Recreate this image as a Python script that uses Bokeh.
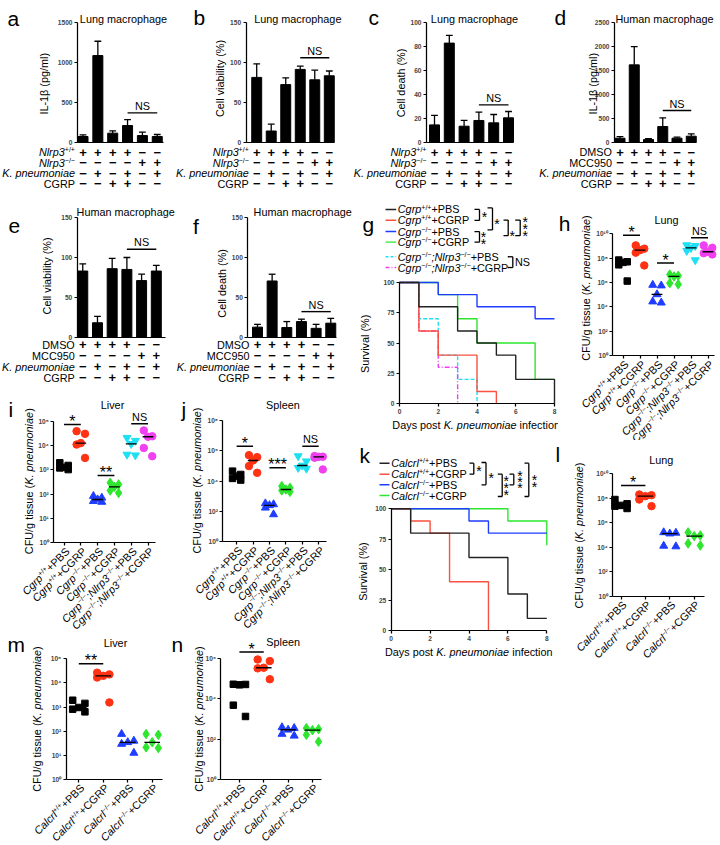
import math
import numpy as np
from bokeh.plotting import figure
from bokeh.models import Range1d, Label, FixedTicker
from bokeh.layouts import row, column
from bokeh.embed import file_html
from bokeh.resources import INLINE
from bokeh.core.properties import value

# ======================= DATA =======================
# bar charts: mean and SEM for 6 groups
a_il1b_mean = [71, 1083, 113, 208, 83, 71]
a_il1b_sem = [20, 179, 29, 75, 42, 25]
b_viab_mean = [81, 14, 72, 91, 78, 83]
b_viab_sem = [17, 8.5, 8.5, 4, 12, 6]
c_death_mean = [14.5, 83, 13.4, 18.2, 16.2, 20.4]
c_death_sem = [8, 6.4, 4.8, 7, 7, 5.3]
d_il1b_mean = [83, 1611, 55, 326, 83, 125]
d_il1b_sem = [35, 382, 21, 181, 21, 49]
e_viab_mean = [83, 18, 86, 85, 71, 83]
e_viab_sem = [9, 8, 13, 15, 8, 7]
f_death_mean = [12.5, 70.5, 12, 19.5, 11, 17.5]
f_death_sem = [3.5, 8.5, 7.5, 3, 5, 6]
# level of the "NS" comparison line (groups 4-6)
a_ns, b_ns, c_ns, d_ns, e_ns, f_ns = 367, 105.5, 31.3, 660, 110.4, 32

a_ticks = [0, 500, 1000, 1500]
b_ticks = [0, 50, 100, 150]
c_ticks = [0, 20, 40, 60, 80, 100]
d_ticks = [0, 500, 1000, 1500, 2000, 2500]
e_ticks = [0, 50, 100, 150]
f_ticks = [0, 50, 100, 150]

# treatment matrix (1 = "+", 0 = "-")
tbl_nlrp3_wt = [1, 1, 1, 1, 0, 0]
tbl_nlrp3_ko = [0, 0, 0, 0, 1, 1]
tbl_dmso = [1, 1, 1, 1, 0, 0]
tbl_mcc950 = [0, 0, 0, 0, 1, 1]
tbl_kp = [0, 1, 0, 1, 0, 1]
tbl_cgrp = [0, 0, 1, 1, 0, 0]

# survival (days, % survival) - panel g
g_black_t, g_black_s = [0, 1, 3, 4, 5, 6, 8], [100, 80, 60, 50, 40, 20, 0]
g_red_t, g_red_s = [0, 1, 2, 4, 5], [100, 60, 40, 10, 0]
g_blue_t, g_blue_s = [0, 2, 4, 7, 8], [100, 90, 80, 70, 70]
g_green_t, g_green_s = [0, 2, 3, 4, 7, 8], [100, 90, 70, 50, 20, 20]
g_cyan_t, g_cyan_s = [0, 1, 2, 3, 4], [100, 70, 40, 20, 0]
g_mag_t, g_mag_s = [0, 1, 2, 3], [100, 60, 30, 0]
# survival - panel k
k_black_t, k_black_s = [0, 1, 4, 6, 7, 8], [100, 80, 60, 30, 10, 10]
k_red_t, k_red_s = [0, 1, 2, 3, 5], [100, 90, 80, 40, 0]
k_blue_t, k_blue_s = [0, 4, 5, 8], [100, 90, 80, 80]
k_green_t, k_green_s = [0, 6, 8], [100, 90, 70]
surv_x_ticks = [0, 2, 4, 6, 8]
surv_y_ticks = [0, 25, 50, 75, 100]

# CFU per g tissue, log10 values, 5 mice per group
h_lung_log10 = [[7.84, 7.7, 7.65, 7.45, 6.12], [9.04, 8.77, 8.65, 8.44, 7.4],
                [5.8, 5.75, 5.03, 4.44, 4.35], [6.65, 6.55, 6.5, 5.95, 5.85],
                [9.06, 9.0, 8.84, 8.6, 7.84], [9.04, 8.84, 8.52, 8.4, 8.3]]
i_liver_log10 = [[3.29, 3.18, 3.1, 3.08, 3.01], [4.59, 4.48, 4.1, 4.04, 3.49],
                 [1.92, 1.85, 1.78, 1.71, 1.68], [2.47, 2.4, 2.3, 2.15, 2.05],
                 [4.32, 4.2, 4.07, 3.63, 3.6], [4.62, 4.38, 4.36, 3.9, 3.56]]
j_spleen_log10 = [[4.65, 4.43, 4.32, 4.17, 4.06], [5.7, 5.57, 5.35, 4.98, 4.54],
                  [2.52, 2.46, 2.4, 2.24, 1.8], [3.66, 3.55, 3.44, 3.38, 3.29],
                  [5.64, 5.3, 5.02, 4.87, 4.82], [5.64, 5.6, 5.59, 5.53, 4.76]]
l_lung_log10 = [[7.88, 7.53, 7.4, 7.34, 7.15], [8.29, 8.23, 8.15, 7.88, 7.34],
                [5.2, 5.16, 5.1, 4.1, 4.05], [5.2, 4.95, 4.9, 4.3, 4.13]]
m_liver_log10 = [[3.28, 3.15, 2.98, 2.91, 2.8], [4.42, 4.35, 4.29, 4.22, 3.19],
                 [1.88, 1.6, 1.54, 1.47, 1.1], [1.88, 1.85, 1.54, 1.33, 1.3]]
n_spleen_log10 = [[4.73, 4.72, 4.7, 3.69, 3.13], [5.96, 5.88, 5.55, 5.52, 4.98],
                  [2.59, 2.55, 2.47, 2.26, 2.17], [2.55, 2.5, 2.45, 2.22, 1.88]]
# significance: (group a, group b, log10 level, label)
h_sig = [(1, 2, 9.86, "*"), (3, 4, 7.6, "*"), (5, 6, 9.67, "NS")]
i_sig = [(1, 2, 4.86, "*"), (3, 4, 2.77, "**"), (5, 6, 4.9, "NS")]
j_sig = [(1, 2, 6.29, "*"), (3, 4, 4.87, "***"), (5, 6, 6.29, "NS")]
l_sig = [(1, 2, 9.02, "*")]
m_sig = [(1, 2, 4.79, "**")]
n_sig = [(1, 2, 6.33, "*")]
h_exps = [0, 2, 4, 6, 8, 10]
i_exps = [0, 1, 2, 3, 4, 5]
j_exps = [0, 2, 4, 6, 8]
l_exps = [0, 2, 4, 6, 8, 10]
m_exps = [0, 1, 2, 3, 4, 5]
n_exps = [0, 2, 4, 6]

# ======================= STYLE =======================
S = 0.998
FONT = "Liberation Sans"
BASE = 10.85
SUP = 0.65
RISE = 0.22
BLACK, RED, BLUE, GREEN, CYAN, MAG = "#000000", "#ff3214", "#1f3dff", "#2de62d", "#1ee0f2", "#f040f0"
LRED = "#fa5040"
DARK = "#222222"
JIT = [-0.25, 0.25, 0.0, -0.25, 0.25]
MSIZE = {"square": 6.5, "circle": 7.5, "triangle": 8.0, "diamond": 9.5, "inverted_triangle": 8.0}
SUPD = str.maketrans("0123456789", "⁰¹²³⁴⁵⁶⁷⁸⁹")

AW = {' ': 278, '%': 889, '(': 333, ')': 333, '*': 389, '+': 584, ',': 278, '-': 333, '.': 278,
      '/': 278, ';': 278, ':': 278, '−': 584, 'β': 575}
for ch in "0123456789":
    AW[ch] = 556
AW.update(dict(A=667, B=667, C=722, D=722, E=667, F=611, G=778, H=722, I=278, J=500, K=667, L=556,
               M=833, N=722, O=778, P=667, Q=778, R=722, S=667, T=611, U=722, V=667, W=944, X=667,
               Y=667, Z=611))
AW.update(dict(a=556, b=556, c=500, d=556, e=556, f=278, g=556, h=556, i=222, j=222, k=500, l=222,
               m=833, n=556, o=556, p=556, q=556, r=333, s=500, t=278, u=556, v=500, w=722, x=500,
               y=500, z=500))


def tw(s, size):
    return sum(AW.get(ch, 556) for ch in s) * size / 1000.0


def R(v):
    return int(round(v * S))


def lin(v1, p1, v2, p2):
    k = (v2 - v1) / (p2 - p1)
    return lambda px: v1 + (px - p1) * k


class Panel:
    """One figure whose frame fills its whole canvas; axes are placed with fixed_location."""

    def __init__(self, box, fx, fy, ylog=False):
        L, T, Rt, B = box
        self.fx, self.fy, self.ylog = fx, fy, ylog
        y0, y1 = fy(B), fy(T)
        if ylog:
            y0, y1 = 10 ** y0, 10 ** y1
        p = figure(width=R(Rt) - R(L), height=R(B) - R(T),
                   x_range=Range1d(fx(L), fx(Rt)), y_range=Range1d(y0, y1),
                   y_axis_type="log" if ylog else "linear", title=None,
                   output_backend="svg", toolbar_location=None, tools="")
        p.min_border_left = 0
        p.min_border_right = 0
        p.min_border_top = 0
        p.min_border_bottom = 0
        p.outline_line_color = None
        p.xgrid.visible = False
        p.ygrid.visible = False
        p.border_fill_color = "white"
        p.background_fill_color = "white"
        for ax in (p.xaxis[0], p.yaxis[0]):
            ax.axis_line_width = 1.25 * S
            ax.axis_line_color = "black"
            ax.major_tick_line_width = 1.25 * S
            ax.minor_tick_line_width = 1.25 * S
            ax.major_tick_out = 3
            ax.major_tick_in = 0
            ax.minor_tick_out = 3
            ax.minor_tick_in = 0
            ax.minor_tick_line_color = None
            ax.major_label_text_font = FONT
            ax.major_label_text_font_size = f"{6.6 * S:.2f}px"
            ax.major_label_text_font_style = "bold"
            ax.major_label_standoff = 2
        self.p = p

    def X(self, px):
        return self.fx(px)

    def Y(self, py):
        v = self.fy(py)
        return 10 ** v if self.ylog else v

    def _lab(self, X, Y, t, fs, k, angle, align, baseline, bold, color):
        style = "bold" if bold else ("italic" if k == "i" else "normal")
        self.p.add_layout(Label(x=self.X(X), y=self.Y(Y), x_units="data", y_units="data",
                                text=t, angle=angle, text_align=align, text_baseline=baseline,
                                text_font=FONT, text_font_size=f"{fs * S:.2f}px",
                                text_font_style=style, text_color=color))

    def text(self, X, Y, parts, size=BASE, angle=0.0, align="left", baseline="middle",
             bold=False, color="black"):
        if isinstance(parts, str):
            parts = [(parts, "n")]
        if len(parts) == 1:
            t, k = parts[0]
            self._lab(X, Y, t, size, k, angle, align, baseline, bold, color)
            return
        sizes = [size * SUP if k == "s" else size for t, k in parts]
        total = sum(tw(t, s) for (t, k), s in zip(parts, sizes))
        pos = {"left": 0.0, "center": -total / 2, "right": -total}[align]
        ca, sa = math.cos(angle), math.sin(angle)
        for (t, k), s in zip(parts, sizes):
            core = t.strip(" ")
            lead = len(t) - len(t.lstrip(" "))
            trail = len(t) - len(t.rstrip(" "))
            pos += tw(" " * lead, s)
            rise = size * RISE if k == "s" else 0.0
            dx = pos * ca - rise * sa
            dy = pos * sa + rise * ca
            self._lab(X + dx, Y - dy, core, s, k, angle, "left", baseline, bold, color)
            pos += tw(core, s) + tw(" " * trail, s)

    def star(self, X, Y, size=14):
        self._lab(X, Y + 0.23 * size, "*", size, "n", 0, "center", "middle", False, "black")

    def seg(self, X0, Y0, X1, Y1, color="black", width=1.3, dash="solid"):
        self.p.segment(x0=[self.X(X0)], y0=[self.Y(Y0)], x1=[self.X(X1)], y1=[self.Y(Y1)],
                       line_color=color, line_width=width * S, line_dash=dash)

    def bracket(self, x0, x1, y0, y1):
        self.seg(x0, y0, x1, y0)
        self.seg(x1, y0, x1, y1)
        self.seg(x0, y1, x1, y1)


def sig_text(p, x, y, txt):
    if "*" in txt:
        size, off = 16, -6.5 + 0.23 * 16
    else:
        size, off = BASE, -7.0
    p.text(x=[x], y=[y], text=[txt], text_align="center", text_baseline="middle",
           y_offset=off * S, text_font=value(FONT), text_font_size=f"{size * S:.2f}px",
           text_color="black")


def bar_panel(box, fl, fr, fb, ft, c1, sp, ticks, means, sems, ns_level, rows, row_ys):
    fx = lin(1, c1, 2, c1 + sp)
    fy = lin(0, fb, ticks[-1], ft)
    P = Panel(box, fx, fy)
    p = P.p
    ya, xa = p.yaxis[0], p.xaxis[0]
    ya.fixed_location = fx(fl)
    ya.bounds = (0, ticks[-1])
    ya.ticker = FixedTicker(ticks=ticks)
    xa.fixed_location = 0
    xa.bounds = (fx(fl), fx(fr))
    xa.ticker = FixedTicker(ticks=[-999])
    idx = list(range(1, len(means) + 1))
    p.vbar(x=idx, top=means, bottom=0, width=10.0 / sp, color="black")
    tops = [m + s for m, s in zip(means, sems)]
    p.segment(x0=idx, y0=means, x1=idx, y1=tops, color="black", line_width=1.3 * S)
    hw = 3.4 / sp
    p.segment(x0=[i - hw for i in idx], y0=tops, x1=[i + hw for i in idx], y1=tops,
              color="black", line_width=1.3 * S)
    p.segment(x0=[4], y0=[ns_level], x1=[6], y1=[ns_level], color="black", line_width=1.4 * S)
    sig_text(p, 5, ns_level, "NS")
    for (parts, vals), Y in zip(rows, row_ys):
        P.text(c1 - 8, Y, parts, align="right")
        p.text(x=idx, y=[P.Y(Y)] * len(idx), text=["+" if v else "−" for v in vals],
               text_align="center", text_baseline="middle", text_font=value(FONT),
               text_font_size=f"{13 * S:.2f}px", text_font_style=value("bold"),
               text_color="black")
    return P


def cfu_panel(box, fl, fr, fb, c1, sp, exps, top_tick_y, groups, markers, colors, sigs, cats):
    fx = lin(1, c1, 2, c1 + sp)
    fy = lin(0, fb, exps[-1], top_tick_y)
    P = Panel(box, fx, fy, ylog=True)
    p = P.p
    ya, xa = p.yaxis[0], p.xaxis[0]
    ya.fixed_location = fx(fl)
    ya.bounds = (1, 10 ** exps[-1])
    ya.ticker = FixedTicker(ticks=[10 ** e for e in exps])
    ya.major_label_overrides = {10 ** e: "10" + str(e).translate(SUPD) for e in exps}
    idx = list(range(1, len(groups) + 1))
    xa.fixed_location = 1
    xa.bounds = (fx(fl), fx(fr))
    xa.ticker = FixedTicker(ticks=[-999], minor_ticks=idx)
    xa.minor_tick_line_color = "black"
    for gi, (vals, mk, col) in enumerate(zip(groups, markers, colors), start=1):
        order = sorted(vals, reverse=True)
        xs = [gi + j for j in JIT[:len(order)]]
        ys = [10 ** v for v in order]
        p.scatter(xs, ys, marker=mk, size=MSIZE[mk] * S, color=col)
        med = 10 ** float(np.median(vals))
        p.segment(x0=[gi - 0.32], x1=[gi + 0.32], y0=[med], y1=[med], color="black",
                  line_width=1.3 * S)
    for g1, g2, lev, txt in sigs:
        p.segment(x0=[g1], x1=[g2], y0=[10 ** lev], y1=[10 ** lev], color="black",
                  line_width=1.5 * S)
        sig_text(p, (g1 + g2) / 2, 10 ** lev, txt)
    for gi, parts in enumerate(cats, start=1):
        P.text(c1 + (gi - 1) * sp + 3.5, fb + 6.5, parts, angle=math.pi / 4, align="right")
    return P


def surv_panel(box, fl, fb, dpx, y100, curves):
    fx = lin(0, fl, 8, fl + 8 * dpx)
    fy = lin(0, fb, 100, y100)
    P = Panel(box, fx, fy)
    p = P.p
    ya, xa = p.yaxis[0], p.xaxis[0]
    xa.fixed_location = 0
    xa.bounds = (0, 8)
    xa.ticker = FixedTicker(ticks=surv_x_ticks)
    ya.fixed_location = 0
    ya.bounds = (0, 100)
    ya.ticker = FixedTicker(ticks=surv_y_ticks)
    for t, s, col, dash in curves:
        p.step(t, s, mode="after", line_color=col, line_width=1.4 * S, line_dash=dash)
    return P


def ylab(P, X, Y, parts):
    P.text(X, Y, parts, angle=math.pi / 2, align="center")


KP = [("K. pneumoniae", "i")]
CFU_LAB = [("CFU/g tissue (", "n"), ("K. pneumoniae", "i"), (")", "n")]
DAYS_LAB = [("Days post ", "n"), ("K. pneumoniae", "i"), (" infection", "n")]
rows_nlrp3 = [([("Nlrp3", "i"), ("+/+", "s")], tbl_nlrp3_wt),
              ([("Nlrp3", "i"), ("−/−", "s")], tbl_nlrp3_ko),
              (KP, tbl_kp), ([("CGRP", "n")], tbl_cgrp)]
rows_mcc = [([("DMSO", "n")], tbl_dmso), ([("MCC950", "n")], tbl_mcc950),
            (KP, tbl_kp), ([("CGRP", "n")], tbl_cgrp)]
ROWS_TOP = [151.7, 162.3, 172.7, 183.3]
ROWS_MID = [345, 356, 367.3, 378.3]

# ---------------- top row ----------------
pa = bar_panel((0, 0, 172, 200), 77, 163, 141.7, 21.7, 82.5, 14.85, a_ticks,
               a_il1b_mean, a_il1b_sem, a_ns, rows_nlrp3, ROWS_TOP)
pa.text(7, 18, "a", size=21, baseline="alphabetic")
pa.text(123, 18.5, "Lung macrophage", align="center")
ylab(pa, 43, 83.3, [("IL-1β (pg/ml)", "n")])

pb = bar_panel((172, 0, 345, 200), 246, 335, 141.7, 21.7, 256.7, 14.6, b_ticks,
               b_viab_mean, b_viab_sem, b_ns, rows_nlrp3, ROWS_TOP)
pb.text(193, 17, "b", size=21, baseline="alphabetic")
pb.text(298, 18.5, "Lung macrophage", align="center")
ylab(pb, 220, 78, [("Cell viability (%)", "n")])

pc = bar_panel((345, 0, 530, 200), 427, 514, 141.7, 22.3, 435, 14.8, c_ticks,
               c_death_mean, c_death_sem, c_ns, rows_nlrp3, ROWS_TOP)
pc.text(369, 17, "c", size=21, baseline="alphabetic")
pc.text(475, 18.5, "Lung macrophage", align="center")
ylab(pc, 401.7, 82.5, [("Cell death (%)", "n")])

pd = bar_panel((530, 0, 720, 200), 615, 697, 141.7, 21.7, 620.5, 14.25, d_ticks,
               d_il1b_mean, d_il1b_sem, d_ns, rows_mcc, ROWS_TOP)
pd.text(555, 17, "d", size=21, baseline="alphabetic")
pd.text(665, 18.5, "Human macrophage", align="center")
ylab(pd, 593.3, 83.3, [("IL-1β (pg/ml)", "n")])

# ---------------- e / f ----------------
pe = bar_panel((0, 200, 175.5, 393), 77, 165, 337.3, 217.3, 82.5, 14.75, e_ticks,
               e_viab_mean, e_viab_sem, e_ns, rows_mcc, ROWS_MID)
pe.text(8, 226, "e", size=21, baseline="alphabetic")
pe.text(125.5, 212, "Human macrophage", align="center")
ylab(pe, 46.7, 275.8, [("Cell viability (%)", "n")])

pf = bar_panel((175.5, 200, 357, 393), 248, 336.7, 337.3, 217.3, 257.7, 14.7, f_ticks,
               f_death_mean, f_death_sem, f_ns, rows_mcc, ROWS_MID)
pf.text(193, 226, "f", size=21, baseline="alphabetic")
pf.text(303, 212, "Human macrophage", align="center")
ylab(pf, 221.7, 283.3, [("Cell death (%)", "n")])

# ---------------- g (survival) ----------------
pg = surv_panel((357, 200, 559, 441), 400, 404, 19.375, 282.3, [
    (g_green_t, g_green_s, GREEN, "solid"),
    (g_cyan_t, g_cyan_s, CYAN, "4 2"),
    (g_mag_t, g_mag_s, MAG, "5 2 1 2"),
    (g_red_t, g_red_s, LRED, "solid"),
    (g_blue_t, g_blue_s, BLUE, "solid"),
    (g_black_t, g_black_s, DARK, "solid")])
pg.text(363, 224, "g", size=21, baseline="alphabetic")
ylab(pg, 365, 344, [("Survival (%)", "n")])
pg.text(476.7, 425, DAYS_LAB, align="center")
g_leg = [
    ([("Cgrp", "i"), ("+/+", "s"), ("+PBS", "n")], DARK, "solid"),
    ([("Cgrp", "i"), ("+/+", "s"), ("+CGRP", "n")], LRED, "solid"),
    ([("Cgrp", "i"), ("−/−", "s"), ("+PBS", "n")], BLUE, "solid"),
    ([("Cgrp", "i"), ("−/−", "s"), ("+CGRP", "n")], GREEN, "solid"),
    ([("Cgrp", "i"), ("−/−", "s"), (";", "i"), ("Nlrp3", "i"), ("−/−", "s"), ("+PBS", "n")], CYAN, "3 2"),
    ([("Cgrp", "i"), ("−/−", "s"), (";", "i"), ("Nlrp3", "i"), ("−/−", "s"), ("+CGRP", "n")], MAG, "4 2 1 2")]
for (parts, col, dash), Y in zip(g_leg, [209, 219.8, 231.2, 241.8, 256.5, 267.3]):
    pg.seg(386, Y, 396.7, Y, color=col, width=1.4, dash=dash)
    pg.text(398.3, Y, parts)
pg.bracket(475, 480, 209, 220)
pg.star(485, 213.5)
pg.bracket(488, 493, 207.5, 229.5)
pg.star(497.5, 220.5)
pg.bracket(475, 480, 231.2, 241.8)
pg.star(484, 233)
pg.star(484, 240.5)
pg.bracket(504, 508.7, 219.7, 235.3)
pg.star(512.7, 232)
pg.bracket(515.7, 520.7, 219.7, 235.3)
for yy in (218.7, 225.5, 232.3):
    pg.star(525.7, yy)
pg.bracket(508.3, 513.3, 256.5, 267.3)
pg.text(515.5, 262, "NS")

# ---------------- h ----------------
def cg(g, tail):
    return [("Cgrp", "i"), (g, "s"), (tail, "n")]


def cgn(tail):
    return [("Cgrp", "i"), ("−/−", "s"), (";", "i"), ("Nlrp3", "i"), ("−/−", "s"), (tail, "n")]


def ca(g, tail):
    return [("Calcrl", "i"), (g, "s"), (tail, "n")]


CGRP_CATS = [cg("+/+", "+PBS"), cg("+/+", "+CGRP"), cg("−/−", "+PBS"), cg("−/−", "+CGRP"),
             cgn("+PBS"), cgn("+CGRP")]
MK6 = ["square", "circle", "triangle", "diamond", "inverted_triangle", "circle"]
COL6 = [BLACK, RED, BLUE, GREEN, CYAN, MAG]

ph = cfu_panel((559, 200, 720, 441), 613.3, 715, 356, 623.5, 17, h_exps, 233.3,
               h_lung_log10, MK6, COL6, h_sig, CGRP_CATS)
ph.text(559.2, 223.5, "h", size=21, baseline="alphabetic")
ph.text(667, 219.5, "Lung", align="center")
ylab(ph, 586.7, 288, CFU_LAB)

# ---------------- i / j ----------------
pi_ = cfu_panel((0, 393, 168, 632), 53.3, 155, 543.3, 63.5, 16.8, i_exps, 421.7,
                i_liver_log10, MK6, COL6, i_sig, CGRP_CATS)
pi_.text(8, 410, "i", size=21, baseline="alphabetic")
pi_.text(112, 405, "Liver", align="center")
ylab(pi_, 28.3, 481.7, CFU_LAB)

pj = cfu_panel((168, 393, 357, 632), 222.7, 326.7, 542.3, 236.5, 16.5, j_exps, 420.7,
               j_spleen_log10, MK6, COL6, j_sig, CGRP_CATS)
pj.text(181, 410, "j", size=21, baseline="alphabetic")
pj.text(283, 405, "Spleen", align="center")
ylab(pj, 196.7, 481, CFU_LAB)

# ---------------- k (survival) ----------------
pk = surv_panel((357, 441, 555, 665), 391.7, 631, 19.45, 509.3, [
    (k_green_t, k_green_s, GREEN, "solid"),
    (k_blue_t, k_blue_s, BLUE, "solid"),
    (k_red_t, k_red_s, LRED, "solid"),
    (k_black_t, k_black_s, DARK, "solid")])
pk.text(360, 456, "k", size=21, baseline="alphabetic")
ylab(pk, 363.3, 572, [("Survival (%)", "n")])
pk.text(469.3, 652.7, DAYS_LAB, align="center")
k_leg = [(ca("+/+", "+PBS"), DARK), (ca("+/+", "+CGRP"), LRED),
         (ca("−/−", "+PBS"), BLUE), (ca("−/−", "+CGRP"), GREEN)]
for (parts, col), Y in zip(k_leg, [463.7, 474.7, 485.3, 496]):
    pk.seg(380, Y, 390, Y, color=col, width=1.4)
    pk.text(391.7, Y, parts)
pk.bracket(470, 474.3, 463.7, 474.7)
pk.star(479.5, 468)
pk.bracket(482, 486.5, 463, 485.3)
pk.star(491.7, 475.3)
pk.bracket(498.3, 502.7, 474.7, 497)
for yy in (478.7, 485.3, 492):
    pk.star(506.7, yy)
pk.bracket(510, 514.3, 474.7, 485.3)
for yy in (473.7, 479.3, 485.3):
    pk.star(520.5, yy)
pk.bracket(525, 529.3, 463.7, 497)
for yy in (477, 484.3):
    pk.star(535, yy)

# ---------------- l / m / n ----------------
CAL_CATS = [ca("+/+", "+PBS"), ca("+/+", "+CGRP"), ca("−/−", "+PBS"), ca("−/−", "+CGRP")]
MK4, COL4 = MK6[:4], COL6[:4]

pl = cfu_panel((555, 441, 720, 665), 613.3, 705, 596.7, 621.5, 24.4, l_exps, 474,
               l_lung_log10, MK4, COL4, l_sig, CAL_CATS)
pl.text(556, 455, "l", size=21, baseline="alphabetic")
pl.text(661.7, 460, "Lung", align="center")
ylab(pl, 579, 536, CFU_LAB)

pm = cfu_panel((0, 632, 166, 845), 65.7, 161.7, 780.7, 78.3, 24.47, m_exps, 659.3,
               m_liver_log10, MK4, COL4, m_sig, CAL_CATS)
pm.text(7, 645, "m", size=21, baseline="alphabetic")
pm.text(115, 643.3, "Liver", align="center")
ylab(pm, 36.7, 720, CFU_LAB)

pn = cfu_panel((166, 632, 357, 845), 220.7, 321.7, 780.7, 239.3, 24.47, n_exps, 659.3,
               n_spleen_log10, MK4, COL4, n_sig, CAL_CATS)
pn.text(171, 645, "n", size=21, baseline="alphabetic")
pn.text(283.3, 643, "Spleen", align="center")
ylab(pn, 198.3, 720, CFU_LAB)

layout = column(
    row(pa.p, pb.p, pc.p, pd.p),
    row(column(row(pe.p, pf.p), row(pi_.p, pj.p), row(pm.p, pn.p)),
        column(row(pg.p, ph.p), row(pk.p, pl.p))))

open("out.html", "w").write(file_html(layout, INLINE, title="CGRP figure"))
